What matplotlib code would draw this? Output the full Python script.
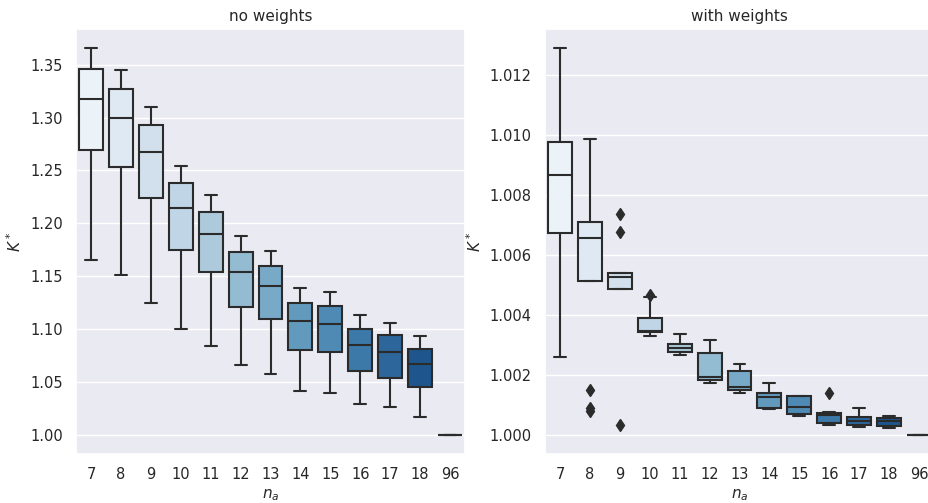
import matplotlib
matplotlib.use("Agg")
import matplotlib.pyplot as plt
import seaborn as sns
import colorsys

categories = ["7", "8", "9", "10", "11", "12", "13", "14", "15", "16", "17", "18", "96"]

# no weights
nw_whislo = [1.165, 1.151, 1.125, 1.100, 1.084, 1.066, 1.057, 1.041, 1.039, 1.029, 1.026, 1.017, 1.000]
nw_q1     = [1.269, 1.253, 1.224, 1.175, 1.154, 1.121, 1.109, 1.080, 1.078, 1.060, 1.054, 1.045, 1.000]
nw_med    = [1.318, 1.300, 1.267, 1.214, 1.190, 1.154, 1.141, 1.108, 1.105, 1.085, 1.078, 1.067, 1.000]
nw_q3     = [1.346, 1.327, 1.293, 1.238, 1.211, 1.173, 1.160, 1.125, 1.122, 1.100, 1.094, 1.081, 1.000]
nw_whishi = [1.3655, 1.345, 1.310, 1.254, 1.227, 1.188, 1.1735, 1.1386, 1.135, 1.113, 1.1055, 1.0936, 1.000]
nw_fliers = [[] for _ in categories]

# with weights
ww_whislo = [1.00260, 1.00514, 1.00485, 1.00329, 1.00265, 1.00172, 1.00138, 1.00087, 1.00064, 1.00033, 1.00025, 1.00023, 1.0]
ww_q1     = [1.00673, 1.00514, 1.00485, 1.00342, 1.00276, 1.00182, 1.00148, 1.00090, 1.00068, 1.00039, 1.00034, 1.00030, 1.0]
ww_med    = [1.00866, 1.00657, 1.00527, 1.00347, 1.00290, 1.00193, 1.00159, 1.00125, 1.00092, 1.00065, 1.00046, 1.00046, 1.0]
ww_q3     = [1.00976, 1.00709, 1.00538, 1.00389, 1.00301, 1.00274, 1.00213, 1.00138, 1.00129, 1.00072, 1.00059, 1.00057, 1.0]
ww_whishi = [1.01288, 1.00987, 1.00540, 1.00460, 1.00337, 1.00315, 1.00237, 1.00171, 1.00129, 1.00075, 1.00089, 1.00061, 1.0]
ww_fliers = [[], [1.00150, 1.00088, 1.00080], [1.00737, 1.00674, 1.00033], [1.00467], [], [], [], [], [],
             [1.00140], [], [], []]

sns.set_theme(style="darkgrid")
plt.rcParams['font.family'] = ['DejaVu Sans']

pal = sns.color_palette("Blues", len(categories))
pal = [sns.desaturate(c, 0.75) for c in pal]
lum = min(colorsys.rgb_to_hls(*c)[1] for c in pal) * 0.6
gray = (lum, lum, lum)

fig = plt.figure(figsize=(9.29, 5.03), dpi=100)
W, H = 929, 503
ax1 = fig.add_axes([76 / W, 49 / H, 389 / W, 425 / H])
ax2 = fig.add_axes([545 / W, 49 / H, 389 / W, 425 / H])


def draw(ax, lo, q1, med, q3, hi, fl, title):
    stats = []
    for i in range(len(categories)):
        stats.append(dict(whislo=lo[i], q1=q1[i], med=med[i], q3=q3[i], whishi=hi[i], fliers=fl[i]))
    lw = 1.5
    b = ax.bxp(stats, positions=range(len(categories)), widths=0.8, patch_artist=True,
               showfliers=True, capwidths=0.4,
               boxprops=dict(edgecolor=gray, linewidth=lw),
               medianprops=dict(color=gray, linewidth=lw),
               whiskerprops=dict(color=gray, linewidth=lw),
               capprops=dict(color=gray, linewidth=lw),
               flierprops=dict(marker="d", markersize=6, markerfacecolor=gray,
                               markeredgecolor=gray, linestyle="none"))
    for patch, c in zip(b["boxes"], pal):
        patch.set_facecolor(c)
    ax.set_xticks(range(len(categories)))
    ax.set_xticklabels(categories)
    ax.set_xlim(-0.5, len(categories) - 0.5)
    ax.grid(axis="x", visible=False)
    ax.set_title(title, fontsize=11)
    ax.set_xlabel("$n_a$", fontsize=11)
    ax.set_ylabel("$K^*$", fontsize=11)
    ax.tick_params(labelsize=10.5)


draw(ax1, nw_whislo, nw_q1, nw_med, nw_q3, nw_whishi, nw_fliers, "no weights")
draw(ax2, ww_whislo, ww_q1, ww_med, ww_q3, ww_whishi, ww_fliers, "with weights")
ax1.set_yticks([1.00, 1.05, 1.10, 1.15, 1.20, 1.25, 1.30, 1.35])
ax1.set_yticklabels(["1.00", "1.05", "1.10", "1.15", "1.20", "1.25", "1.30", "1.35"])
ax2.set_yticks([1.000, 1.002, 1.004, 1.006, 1.008, 1.010, 1.012])
ax2.set_yticklabels(["1.000", "1.002", "1.004", "1.006", "1.008", "1.010", "1.012"])
ax1.set_ylim(0.9817, 1.3838)
ax2.set_ylim(0.99936, 1.01352)

fig.savefig("out.png", dpi=100)
